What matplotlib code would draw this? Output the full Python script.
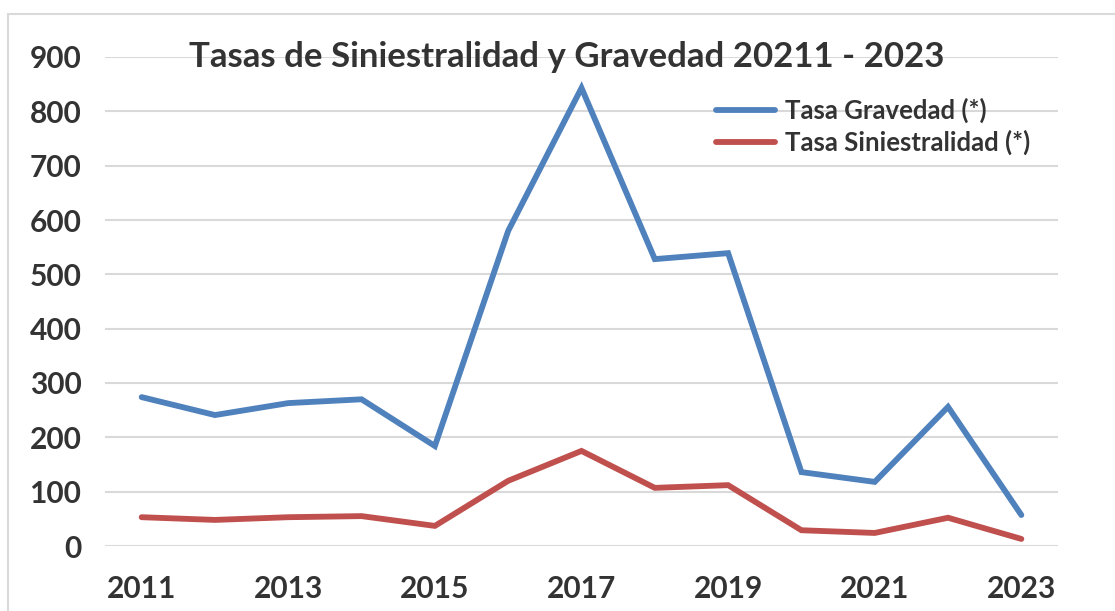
import matplotlib
matplotlib.use("Agg")
import matplotlib.pyplot as plt
from matplotlib.patches import Rectangle

years = [2011, 2012, 2013, 2014, 2015, 2016, 2017, 2018, 2019, 2020, 2021, 2022, 2023]
gravedad = [274, 241, 263, 270, 184, 580, 843, 528, 539, 136, 118, 256, 57]
siniestralidad = [53, 48, 53, 55, 37, 120, 175, 107, 112, 29, 24, 52, 13]
tick_years = [2011, 2013, 2015, 2017, 2019, 2021, 2023]
yticks = [0, 100, 200, 300, 400, 500, 600, 700, 800, 900]

plt.rcParams['font.family'] = ['Lato', 'DejaVu Sans']

fig = plt.figure(figsize=(11.15, 6.11), dpi=100)
fig.patch.set_facecolor('white')
fig.patches.append(Rectangle((8/1115, -0.1), 1.2, (611-14)/611 + 0.1,
                             transform=fig.transFigure, fill=False,
                             edgecolor='#d9d9d9', linewidth=1.5))

ax = fig.add_axes([105/1115, (611-546)/611, (1058-105)/1115, (546-57)/611])
x = list(range(len(years)))
ax.plot(x, gravedad, color='#4f81bd', linewidth=4.2, label='Tasa Gravedad (*)',
        solid_capstyle='round', solid_joinstyle='miter')
ax.plot(x, siniestralidad, color='#c0504d', linewidth=4.2, label='Tasa Siniestralidad (*)',
        solid_capstyle='round', solid_joinstyle='miter')

ax.set_xlim(-0.5, len(years) - 0.5)
ax.set_ylim(0, 900)
ax.set_yticks(yticks)
ax.set_xticks([years.index(y) for y in tick_years])
ax.set_xticklabels([str(y) for y in tick_years])
ax.grid(axis='y', color='#d9d9d9', linewidth=1.5)
ax.set_axisbelow(True)
for s in ax.spines.values():
    s.set_visible(False)
ax.tick_params(length=0, labelsize=21.5, labelcolor='#333333')
ax.tick_params(axis='x', pad=21)
ax.tick_params(axis='y', pad=17)
for lab in ax.get_xticklabels() + ax.get_yticklabels():
    lab.set_fontweight('bold')

fig.text(567/1115, 1 - 57/611, 'Tasas de Siniestralidad y Gravedad 20211 - 2023',
         ha='center', va='center', fontsize=25, fontweight='bold', color='#333333')

leg = ax.legend(loc='upper left', bbox_to_anchor=((716-105)/(1058-105), (546-98)/(546-57)),
                frameon=False, fontsize=18.5, handlelength=2.3, handletextpad=0.4,
                labelspacing=0.25, borderaxespad=0, borderpad=0)
for t in leg.get_texts():
    t.set_color('#333333')
    t.set_fontweight('bold')

fig.savefig('out.png', dpi=100)
